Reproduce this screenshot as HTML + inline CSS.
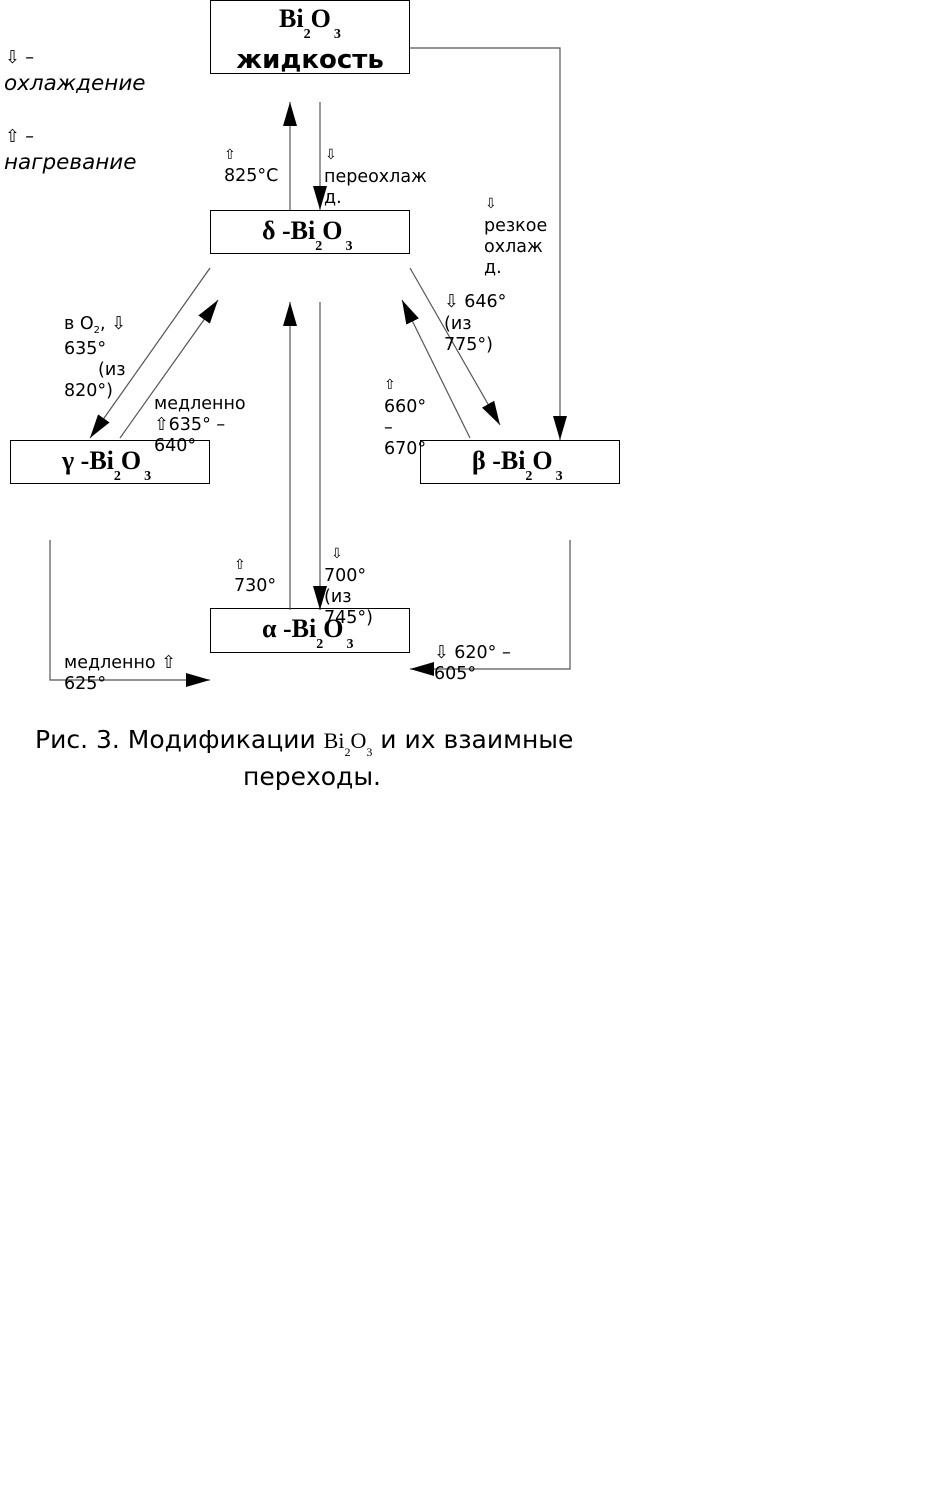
<!DOCTYPE html>
<html><head><meta charset="utf-8"><style>
body{margin:0;background:#fff;width:942px;height:1483px;overflow:hidden}
svg text{font-family:"DejaVu Sans","Liberation Sans",sans-serif;font-size:17.5px;fill:#000}
.t{font-family:"Liberation Serif",serif;font-weight:bold;font-size:26px}
.sm{font-size:14px}
</style></head><body>
<svg width="942" height="1483" xmlns="http://www.w3.org/2000/svg">
<defs>
<marker id="h" viewBox="0 0 24 14" refX="24" refY="7" markerWidth="24" markerHeight="14" orient="auto" markerUnits="userSpaceOnUse"><path d="M0,0 L24,7 L0,14z" fill="#000"/></marker></defs>
<g fill="none" stroke="#000" stroke-width="1">
<rect x="210.5" y="0.5" width="199" height="73"/>
<rect x="210.5" y="210.5" width="199" height="43"/>
<rect x="10.5" y="440.5" width="199" height="43"/>
<rect x="420.5" y="440.5" width="199" height="43"/>
<rect x="210.5" y="608.5" width="199" height="44"/>
</g>
<g fill="none" stroke="#555" stroke-width="1.2">
<polyline points="410,48 560,48 560,440" marker-end="url(#h)"/>
<line x1="290" y1="210" x2="290" y2="102" marker-end="url(#h)"/>
<line x1="320" y1="102" x2="320" y2="210" marker-end="url(#h)"/>
<line x1="210" y1="268" x2="90" y2="438" marker-end="url(#h)"/>
<line x1="120" y1="438" x2="218" y2="300" marker-end="url(#h)"/>
<line x1="410" y1="268" x2="500" y2="425" marker-end="url(#h)"/>
<line x1="470" y1="438" x2="402" y2="300" marker-end="url(#h)"/>
<line x1="290" y1="610" x2="290" y2="302" marker-end="url(#h)"/>
<line x1="320" y1="302" x2="320" y2="610" marker-end="url(#h)"/>
<polyline points="50,540 50,680 210,680" marker-end="url(#h)"/>
<polyline points="570,540 570,669 410,669" marker-end="url(#h)"/>
</g>
<text class="t" x="279" y="27">Bi<tspan dy="11" font-size="14">2</tspan><tspan dy="-11">O</tspan><tspan dy="11" font-size="14" dx="3">3</tspan></text>
<text x="310" y="68" text-anchor="middle" style="font-size:26px;font-weight:bold">жидкость</text>
<text class="t" x="262" y="239">δ -Bi<tspan dy="11" font-size="14">2</tspan><tspan dy="-11">O</tspan><tspan dy="11" font-size="14" dx="3">3</tspan></text>
<text class="t" x="62" y="469">γ -Bi<tspan dy="11" font-size="14">2</tspan><tspan dy="-11">O</tspan><tspan dy="11" font-size="14" dx="3">3</tspan></text>
<text class="t" x="472" y="469">β -Bi<tspan dy="11" font-size="14">2</tspan><tspan dy="-11">O</tspan><tspan dy="11" font-size="14" dx="3">3</tspan></text>
<text class="t" x="262" y="637">α -Bi<tspan dy="11" font-size="14">2</tspan><tspan dy="-11">O</tspan><tspan dy="11" font-size="14" dx="3">3</tspan></text>
<text x="5" y="63">⇩ –</text>
<text x="4" y="90" style="font-style:italic;font-size:21.5px">охлаждение</text>
<text x="5" y="142">⇧ –</text>
<text x="4" y="169" style="font-style:italic;font-size:21.5px">нагревание</text>
<text x="224" y="159" class="sm">⇧</text><text x="224" y="181">825°C</text>
<text x="325" y="159" class="sm">⇩</text><text x="324" y="182">переохлаж</text><text x="324" y="203">д.</text>
<text x="485" y="208" class="sm">⇩</text><text x="484" y="231">резкое</text><text x="484" y="252">охлаж</text><text x="484" y="273">д.</text>
<text x="64" y="329">в O<tspan dy="4" font-size="10">2</tspan><tspan dy="-4">, ⇩</tspan></text>
<text x="64" y="354">635°</text><text x="98" y="375">(из</text><text x="64" y="396">820°)</text>
<text x="154" y="409">медленно</text><text x="154" y="430">⇧635° –</text><text x="154" y="451">640°</text>
<text x="444" y="307">⇩ 646°</text><text x="444" y="329">(из</text><text x="444" y="350">775°)</text>
<text x="384" y="389" class="sm">⇧</text><text x="384" y="412">660°</text><text x="384" y="433">–</text><text x="384" y="454">670°</text>
<text x="234" y="569" class="sm">⇧</text><text x="234" y="591">730°</text>
<text x="331" y="558" class="sm">⇩</text><text x="324" y="581">700°</text><text x="324" y="602">(из</text><text x="324" y="623">745°)</text>
<text x="64" y="668">медленно ⇧</text><text x="64" y="689">625°</text>
<text x="434" y="658">⇩ 620° –</text><text x="434" y="679">605°</text>
<text x="35" y="748" style="font-size:25px">Рис. 3.  Модификации <tspan style="font-family:'Liberation Serif',serif;font-size:22px">Bi<tspan dy="8" font-size="12">2</tspan><tspan dy="-8">O</tspan><tspan dy="8" font-size="12">3</tspan></tspan><tspan dy="-8"> и их взаимные</tspan></text>
<text x="312" y="785" text-anchor="middle" style="font-size:25px">переходы.</text>
</svg>
</body></html>
